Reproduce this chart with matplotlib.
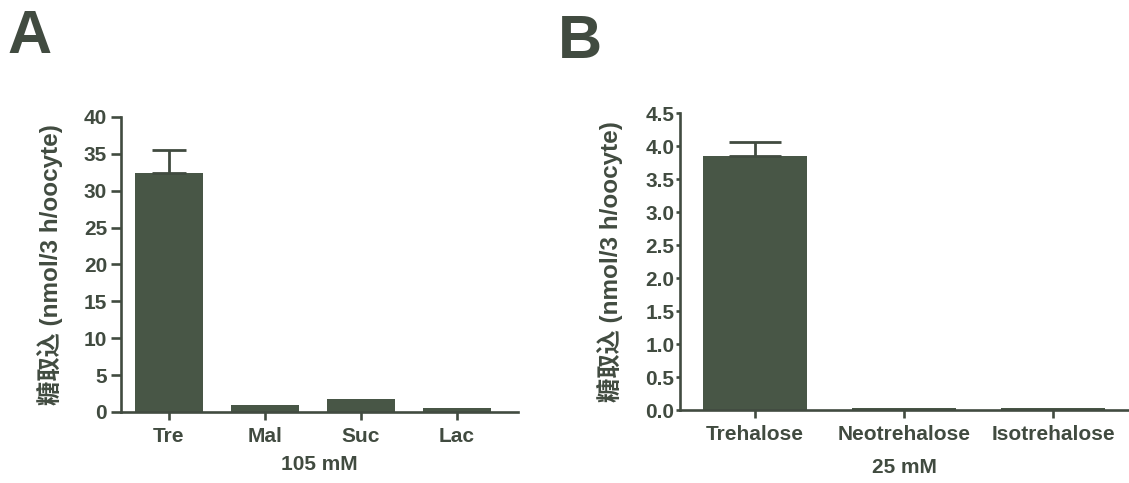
import numpy as np
import matplotlib
matplotlib.use("Agg")
import matplotlib.pyplot as plt

plt.rcParams['font.family'] = ['Liberation Sans', 'Noto Sans CJK SC']
plt.rcParams['font.weight'] = 'bold'
plt.rcParams['axes.labelweight'] = 'bold'

ink = '#414b40'
bar_color = '#485646'

# Panel A: 105 mM disaccharides
sugars_a = ['Tre', 'Mal', 'Suc', 'Lac']
uptake_a = [32.4, 0.9, 1.8, 0.6]
err_a = [3.1, 0.0, 0.0, 0.0]

# Panel B: 25 mM trehalose isomers
sugars_b = ['Trehalose', 'Neotrehalose', 'Isotrehalose']
uptake_b = [3.85, 0.03, 0.03]
err_b = [0.21, 0.0, 0.0]

ylabel = '糖取込 (nmol/3 h/oocyte)'

fig = plt.figure(figsize=(11.29, 4.83), dpi=100)
ax_a = fig.add_axes([0.1072, 0.147, 0.3516, 0.611])
ax_b = fig.add_axes([0.6023, 0.151, 0.3977, 0.615])


def style_axis(ax):
    for side in ['top', 'right']:
        ax.spines[side].set_visible(False)
    for side in ['left', 'bottom']:
        ax.spines[side].set_linewidth(1.9)
        ax.spines[side].set_color(ink)
    ax.tick_params(axis='both', colors=ink, width=1.9, labelsize=15)
    ax.tick_params(axis='x', length=6, pad=5, labelsize=15)


# A
x = np.arange(len(sugars_a))
ax_a.bar(x, uptake_a, width=0.71, color=bar_color, zorder=2)
ax_a.errorbar(x[:1], uptake_a[:1], yerr=[[0], err_a[:1]], fmt='none',
              ecolor=ink, elinewidth=2, capsize=12, capthick=2, zorder=3)
ax_a.set_xlim(-0.5, 3.64)
ax_a.set_ylim(0, 40)
ax_a.set_yticks(np.arange(0, 41, 5))
ax_a.set_xticks(x)
ax_a.set_xticklabels(sugars_a)
style_axis(ax_a)
ax_a.tick_params(axis='y', length=7, pad=3)
ax_a.set_ylabel(ylabel, fontsize=17.5, color=ink)
ax_a.yaxis.set_label_coords(-0.146, 0.5)
ax_a.set_xlabel('105 mM', fontsize=15, color=ink, labelpad=6)

# B
x = np.arange(len(sugars_b))
ax_b.bar(x, uptake_b, width=0.70, color=bar_color, zorder=2)
ax_b.errorbar(x[:1], uptake_b[:1], yerr=[[0], err_b[:1]], fmt='none',
              ecolor=ink, elinewidth=2, capsize=19, capthick=2, zorder=3)
ax_b.set_xlim(-0.503, 2.51)
ax_b.set_ylim(0, 4.5)
ax_b.set_yticks(np.arange(0, 4.51, 0.5))
ax_b.set_yticklabels([f'{v:.1f}' for v in np.arange(0, 4.51, 0.5)])
ax_b.set_xticks(x)
ax_b.set_xticklabels(sugars_b)
style_axis(ax_b)
ax_b.tick_params(axis='y', length=3, pad=1)
ax_b.set_ylabel(ylabel, fontsize=17.5, color=ink)
ax_b.yaxis.set_label_coords(-0.127, 0.5)
ax_b.set_xlabel('25 mM', fontsize=15, color=ink, labelpad=10)

fig.text(0.007, 0.89, 'A', fontsize=44, fontweight='bold', color=ink)
fig.text(0.494, 0.88, 'B', fontsize=44, fontweight='bold', color=ink)

fig.savefig('out.png', dpi=100, facecolor='white')
